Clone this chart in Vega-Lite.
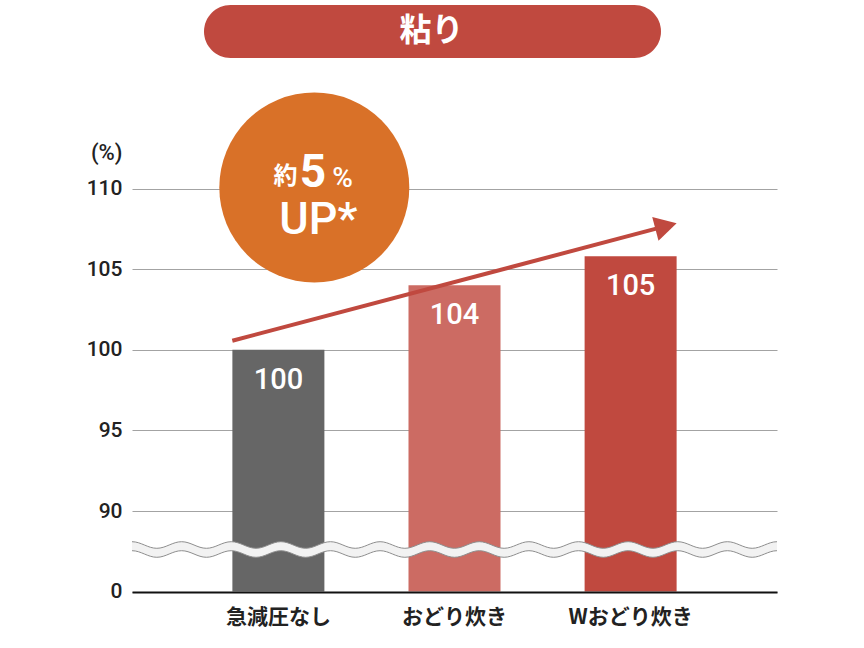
{
  "$schema": "https://vega.github.io/schema/vega-lite/v6.json",
  "description": "粘り: 急減圧なし / おどり炊き / Wおどり炊き",
  "width": 645,
  "height": 592,
  "autosize": "none",
  "padding": {"left": 132, "top": 0, "right": 87, "bottom": 56},
  "background": "white",
  "config": {"view": {"stroke": null}},
  "resolve": {"scale": {"x": "independent"}},
  "layer": [
    {
      "data": {
        "values": [
          {"category": "急減圧なし", "value": 100, "label": "100"},
          {"category": "おどり炊き", "value": 104, "label": "104"},
          {"category": "Wおどり炊き", "value": 105.8, "label": "105"}
        ]
      },
      "layer": [
        {
          "mark": {"type": "bar"},
          "encoding": {
            "x": {
              "field": "category", "type": "nominal", "sort": null,
              "scale": {"paddingInner": 0.4776, "paddingOuter": 0.57},
              "axis": {
                "title": null, "labelAngle": 0, "ticks": false, "tickSize": 0, "grid": false,
                "domain": true, "domainColor": "#111111", "domainWidth": 2, "zindex": 1,
                "labelFont": "Noto Sans CJK JP", "labelFontWeight": "bold", "labelFontSize": 21,
                "labelColor": "#222222", "labelPadding": 14
              }
            },
            "y": {
              "field": "value", "type": "quantitative",
              "scale": {"domain": [0, 90, 110], "range": [591.5, 511, 188.5], "nice": false, "zero": false},
              "axis": {
                "values": [0, 90, 95, 100, 105, 110],
                "title": "(%)", "titleAngle": 0, "titleAlign": "right", "titleBaseline": "middle",
                "titleX": -10, "titleY": 152, "titleFont": "Roboto", "titleFontSize": 22,
                "titleFontWeight": 500, "titleColor": "#222222",
                "labelFont": "Roboto", "labelFontSize": 21, "labelFontWeight": 500,
                "labelColor": "#222222", "labelPadding": 10,
                "ticks": false, "domain": false, "grid": true, "gridColor": "#a3a3a3", "gridWidth": 1
              }
            },
            "color": {
              "field": "category", "type": "nominal", "sort": null,
              "scale": {"domain": ["急減圧なし", "おどり炊き", "Wおどり炊き"], "range": ["#666666", "#cc6b63", "#c0493f"]},
              "legend": null
            }
          }
        },
        {
          "mark": {"type": "text", "dy": 39, "baseline": "alphabetic", "align": "center", "font": "Roboto", "fontSize": 29, "fontWeight": 500, "color": "white"},
          "encoding": {
            "x": {"field": "category", "type": "nominal", "sort": null},
            "y": {"field": "value", "type": "quantitative"},
            "text": {"field": "label"}
          }
        }
      ]
    },
    {
      "data": {"values": [{}]},
      "layer": [
        {
          "mark": {"type": "point", "shape": "M-1 -0.02418c0.028 0 0.048923 0.02046 0.076923 0.02046s0.048923 -0.02046 0.076923 -0.02046s0.048923 0.02046 0.076923 0.02046s0.048923 -0.02046 0.076923 -0.02046s0.048923 0.02046 0.076923 0.02046s0.048923 -0.02046 0.076923 -0.02046s0.048923 0.02046 0.076923 0.02046s0.048923 -0.02046 0.076923 -0.02046s0.048923 0.02046 0.076923 0.02046s0.048923 -0.02046 0.076923 -0.02046s0.048923 0.02046 0.076923 0.02046s0.048923 -0.02046 0.076923 -0.02046s0.048923 0.02046 0.076923 0.02046s0.048923 -0.02046 0.076923 -0.02046s0.048923 0.02046 0.076923 0.02046s0.048923 -0.02046 0.076923 -0.02046s0.048923 0.02046 0.076923 0.02046s0.048923 -0.02046 0.076923 -0.02046s0.048923 0.02046 0.076923 0.02046s0.048923 -0.02046 0.076923 -0.02046s0.048923 0.02046 0.076923 0.02046s0.048923 -0.02046 0.076923 -0.02046s0.048923 0.02046 0.076923 0.02046s0.048923 -0.02046 0.076923 -0.02046s0.048923 0.02046 0.076923 0.02046s0.048923 -0.02046 0.076923 -0.02046L1 0.00372c-0.028 0 -0.048923 0.02046 -0.076923 0.02046s-0.048923 -0.02046 -0.076923 -0.02046s-0.048923 0.02046 -0.076923 0.02046s-0.048923 -0.02046 -0.076923 -0.02046s-0.048923 0.02046 -0.076923 0.02046s-0.048923 -0.02046 -0.076923 -0.02046s-0.048923 0.02046 -0.076923 0.02046s-0.048923 -0.02046 -0.076923 -0.02046s-0.048923 0.02046 -0.076923 0.02046s-0.048923 -0.02046 -0.076923 -0.02046s-0.048923 0.02046 -0.076923 0.02046s-0.048923 -0.02046 -0.076923 -0.02046s-0.048923 0.02046 -0.076923 0.02046s-0.048923 -0.02046 -0.076923 -0.02046s-0.048923 0.02046 -0.076923 0.02046s-0.048923 -0.02046 -0.076923 -0.02046s-0.048923 0.02046 -0.076923 0.02046s-0.048923 -0.02046 -0.076923 -0.02046s-0.048923 0.02046 -0.076923 0.02046s-0.048923 -0.02046 -0.076923 -0.02046s-0.048923 0.02046 -0.076923 0.02046s-0.048923 -0.02046 -0.076923 -0.02046s-0.048923 0.02046 -0.076923 0.02046s-0.048923 -0.02046 -0.076923 -0.02046s-0.048923 0.02046 -0.076923 0.02046s-0.048923 -0.02046 -0.076923 -0.02046Z", "size": 416025, "filled": true, "fill": "#f2f2f2", "strokeWidth": 0, "opacity": 1},
          "encoding": {
            "x": {"datum": 1.0015, "type": "quantitative", "scale": {"domain": [-0.83, 2.833], "nice": false, "zero": false}, "axis": null},
            "y": {"datum": 46.96, "type": "quantitative"}
          }
        },
        {
          "mark": {"type": "point", "shape": "M-1 -0.02418c0.028 0 0.048923 0.02046 0.076923 0.02046s0.048923 -0.02046 0.076923 -0.02046s0.048923 0.02046 0.076923 0.02046s0.048923 -0.02046 0.076923 -0.02046s0.048923 0.02046 0.076923 0.02046s0.048923 -0.02046 0.076923 -0.02046s0.048923 0.02046 0.076923 0.02046s0.048923 -0.02046 0.076923 -0.02046s0.048923 0.02046 0.076923 0.02046s0.048923 -0.02046 0.076923 -0.02046s0.048923 0.02046 0.076923 0.02046s0.048923 -0.02046 0.076923 -0.02046s0.048923 0.02046 0.076923 0.02046s0.048923 -0.02046 0.076923 -0.02046s0.048923 0.02046 0.076923 0.02046s0.048923 -0.02046 0.076923 -0.02046s0.048923 0.02046 0.076923 0.02046s0.048923 -0.02046 0.076923 -0.02046s0.048923 0.02046 0.076923 0.02046s0.048923 -0.02046 0.076923 -0.02046s0.048923 0.02046 0.076923 0.02046s0.048923 -0.02046 0.076923 -0.02046s0.048923 0.02046 0.076923 0.02046s0.048923 -0.02046 0.076923 -0.02046s0.048923 0.02046 0.076923 0.02046s0.048923 -0.02046 0.076923 -0.02046M-1 0.00372c0.028 0 0.048923 0.02046 0.076923 0.02046s0.048923 -0.02046 0.076923 -0.02046s0.048923 0.02046 0.076923 0.02046s0.048923 -0.02046 0.076923 -0.02046s0.048923 0.02046 0.076923 0.02046s0.048923 -0.02046 0.076923 -0.02046s0.048923 0.02046 0.076923 0.02046s0.048923 -0.02046 0.076923 -0.02046s0.048923 0.02046 0.076923 0.02046s0.048923 -0.02046 0.076923 -0.02046s0.048923 0.02046 0.076923 0.02046s0.048923 -0.02046 0.076923 -0.02046s0.048923 0.02046 0.076923 0.02046s0.048923 -0.02046 0.076923 -0.02046s0.048923 0.02046 0.076923 0.02046s0.048923 -0.02046 0.076923 -0.02046s0.048923 0.02046 0.076923 0.02046s0.048923 -0.02046 0.076923 -0.02046s0.048923 0.02046 0.076923 0.02046s0.048923 -0.02046 0.076923 -0.02046s0.048923 0.02046 0.076923 0.02046s0.048923 -0.02046 0.076923 -0.02046s0.048923 0.02046 0.076923 0.02046s0.048923 -0.02046 0.076923 -0.02046s0.048923 0.02046 0.076923 0.02046s0.048923 -0.02046 0.076923 -0.02046", "size": 416025, "filled": false, "fill": "transparent", "stroke": "#8e8e8e", "strokeWidth": 1, "opacity": 1},
          "encoding": {
            "x": {"datum": 1.0015, "type": "quantitative", "axis": null},
            "y": {"datum": 46.96, "type": "quantitative"}
          }
        },
        {
          "mark": {"type": "point", "shape": "circle", "size": 36100, "filled": true, "fill": "#d97128", "strokeWidth": 0, "opacity": 1},
          "encoding": {
            "x": {"datum": 0.2053, "type": "quantitative", "axis": null},
            "y": {"datum": 110.06, "type": "quantitative"}
          }
        },
        {
          "mark": {"type": "text", "text": "約", "font": "Noto Sans CJK JP", "fontWeight": "bold", "fontSize": 24, "color": "white", "align": "center", "baseline": "alphabetic"},
          "encoding": {
            "x": {"datum": 0.0417, "type": "quantitative", "axis": null},
            "y": {"datum": 110.25, "type": "quantitative"}
          }
        },
        {
          "mark": {"type": "text", "text": "5", "font": "Roboto", "fontWeight": "bold", "fontSize": 46, "color": "white", "align": "center", "baseline": "alphabetic"},
          "encoding": {
            "x": {"datum": 0.1979, "type": "quantitative", "axis": null},
            "y": {"datum": 110.12, "type": "quantitative"}
          }
        },
        {
          "mark": {"type": "text", "text": "%", "font": "Roboto", "fontWeight": 500, "fontSize": 28, "color": "white", "align": "center", "baseline": "alphabetic"},
          "encoding": {
            "x": {"datum": 0.3654, "type": "quantitative", "axis": null},
            "y": {"datum": 110.12, "type": "quantitative"}
          }
        },
        {
          "mark": {"type": "text", "text": "UP*", "font": "Roboto", "fontWeight": 500, "fontSize": 45, "color": "white", "align": "center", "baseline": "alphabetic"},
          "encoding": {
            "x": {"datum": 0.228, "type": "quantitative", "axis": null},
            "y": {"datum": 107.18, "type": "quantitative"}
          }
        },
        {
          "mark": {"type": "rule", "color": "#c0493f", "strokeWidth": 4, "strokeCap": "butt"},
          "encoding": {
            "x": {"datum": -0.2604, "type": "quantitative", "axis": null},
            "y": {"datum": 100.56, "type": "quantitative"},
            "x2": {"datum": 2.1685},
            "y2": {"datum": 107.57}
          }
        },
        {
          "mark": {"type": "point", "shape": "M-1 -1.12L1 0L-1 1.12Z", "size": 484, "angle": -14.8, "filled": true, "fill": "#c0493f", "strokeWidth": 0, "opacity": 1},
          "encoding": {
            "x": {"datum": 2.2026, "type": "quantitative", "axis": null},
            "y": {"datum": 107.67, "type": "quantitative"}
          }
        },
        {
          "mark": {"type": "rect", "cornerRadius": 26.5, "color": "#c0493f"},
          "encoding": {
            "x": {"datum": -0.4211, "type": "quantitative", "axis": null},
            "x2": {"datum": 2.1742},
            "y": {"datum": 121.38, "type": "quantitative"},
            "y2": {"datum": 118.09}
          }
        },
        {
          "mark": {"type": "text", "text": "粘り", "font": "Noto Sans CJK JP", "fontWeight": "bold", "fontSize": 32, "color": "white", "align": "center", "baseline": "middle"},
          "encoding": {
            "x": {"datum": 0.8709, "type": "quantitative", "axis": null},
            "y": {"datum": 119.74, "type": "quantitative"}
          }
        }
      ]
    }
  ]
}
